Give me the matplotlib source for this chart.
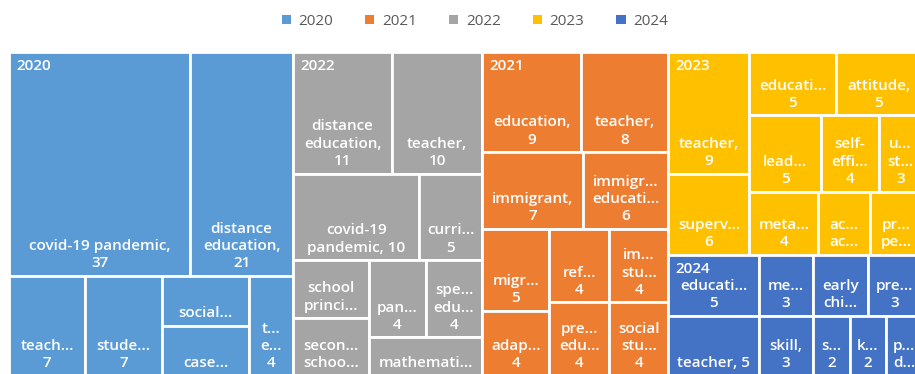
import matplotlib
matplotlib.use('Agg')
import matplotlib.pyplot as plt
from matplotlib.patches import Rectangle, Patch

#---------------------------------------------------------------------
# keyword counts per year (labels as shown in the cells)
#---------------------------------------------------------------------
years = ['2020', '2021', '2022', '2023', '2024']
colors = {'2020': '#5B9BD5', '2021': '#ED7D31', '2022': '#A5A5A5',
          '2023': '#FFC000', '2024': '#4472C4'}

labels_2020 = ['covid-19 pandemic,\n37', 'distance\neducation,\n21', 'teach...\n7',
               'stude...\n7', 'social...', 'case...', 't...\ne...\n4']
values_2020 = [37, 21, 7, 7, 4, 4, 4]

labels_2021 = ['education,\n9', 'teacher,\n8', 'immigrant,\n7', 'immigr...\neducati...\n6',
               'migr...\n5', 'ref...\n4', 'im...\nstu...\n4', 'adap...\n4',
               'pre...\nedu...\n4', 'social\nstu...\n4']
values_2021 = [9, 8, 7, 6, 5, 4, 4, 4, 4, 4]

labels_2022 = ['distance\neducation,\n11', 'teacher,\n10', 'covid-19\npandemic, 10',
               'curri...\n5', 'school\nprinci...', 'pan...\n4', 'spe...\nedu...\n4',
               'secon...\nschoo...', 'mathemati...']
values_2022 = [11, 10, 10, 5, 4, 4, 4, 4, 4]

labels_2023 = ['teacher,\n9', 'superv...\n6', 'educati...\n5', 'attitude,\n5',
               'lead...\n5', 'self-\neffi...\n4', 'u...\nst...\n3', 'meta...\n4',
               'ac...\nac...', 'pr...\npe...']
values_2023 = [9, 6, 5, 5, 5, 4, 3, 4, 3, 3]

labels_2024 = ['educati...\n5', 'me...\n3', 'early\nchi...', 'pre...\n3', 'teacher, 5',
               'skill,\n3', 's...\n2', 'k...\n2', 'p...\nd...']
values_2024 = [5, 3, 3, 3, 5, 3, 2, 2, 2]

data = {'2020': (labels_2020, values_2020), '2021': (labels_2021, values_2021),
        '2022': (labels_2022, values_2022), '2023': (labels_2023, values_2023),
        '2024': (labels_2024, values_2024)}

# split structure of the treemap ('h' = side by side, 'v' = stacked)
split_top = ('h', ['2020', '2022', '2021', ('v', ['2023', '2024'])])
split_group = {
    '2020': ('v', [('h', [0, 1]), ('h', [2, 3, ('v', [4, 5]), 6])]),
    '2022': ('v', [('h', [0, 1]), ('h', [2, 3]),
                   ('h', [('v', [4, 7]), ('v', [('h', [5, 6]), 8])])]),
    '2021': ('v', [('h', [0, 1]), ('h', [2, 3]),
                   ('h', [('v', [4, 7]), ('v', [5, 8]), ('v', [6, 9])])]),
    '2023': ('h', [('v', [0, 1]), ('v', [('h', [2, 3]), ('h', [4, 5, 6]), ('h', [7, 8, 9])])]),
    '2024': ('v', [('h', [0, 1, 2, 3]), ('h', [4, 5, 6, 7, 8])]),
}


def size(node, sz):
    if isinstance(node, tuple):
        return sum(size(c, sz) for c in node[1])
    return sz(node)


def place(node, sz, x, y, w, h, out):
    if not isinstance(node, tuple):
        out.append((node, x, y, w, h))
        return
    kind, kids = node
    tot = size(node, sz)
    pos = x if kind == 'h' else y
    for k in kids:
        f = size(k, sz) / tot
        if kind == 'h':
            place(k, sz, pos, y, w * f, h, out)
            pos += w * f
        else:
            place(k, sz, x, pos, w, h * f, out)
            pos += h * f


plt.rcParams['font.family'] = ['Open Sans', 'DejaVu Sans']

fig = plt.figure(figsize=[9.15, 3.74], dpi=100)
# treemap runs a little past the right / bottom edge of the picture
ax = fig.add_axes([9 / 915, -2 / 374, 913 / 915, 324 / 374])
ax.set_xlim(0, 1)
ax.set_ylim(1, 0)
ax.axis('off')

groups = []
place(split_top, lambda yr: sum(data[yr][1]), 0, 0, 1, 1, groups)

for yr, gx, gy, gw, gh in groups:
    labs, vals = data[yr]
    cells = []
    place(split_group[yr], lambda i: vals[i], gx, gy, gw, gh, cells)
    for i, x, y, w, h in cells:
        ax.add_patch(Rectangle((x, y), w, h, facecolor=colors[yr], edgecolor='white',
                               linewidth=2, clip_on=False))
        ax.annotate(labs[i], xy=(x + w / 2, y + h), xytext=(0, 4), textcoords='offset points',
                    ha='center', va='bottom', multialignment='center', color='white',
                    fontsize=11, fontweight='semibold', linespacing=1.3,
                    annotation_clip=False)
    ax.annotate(yr, xy=(gx, gy), xytext=(5, -5), textcoords='offset points',
                ha='left', va='top', color='white', fontsize=11, fontweight='semibold',
                annotation_clip=False)

handles = [Patch(facecolor=colors[yr], edgecolor='none', label=yr) for yr in years]
leg = fig.legend(handles=handles, loc='upper center', bbox_to_anchor=(0.519, 1.0), ncol=5,
                 frameon=False, fontsize=11, handlelength=0.6, handleheight=0.6,
                 handletextpad=0.5, columnspacing=2.1)
for t in leg.get_texts():
    t.set_color('#595959')

fig.savefig('out.png', dpi=100)
